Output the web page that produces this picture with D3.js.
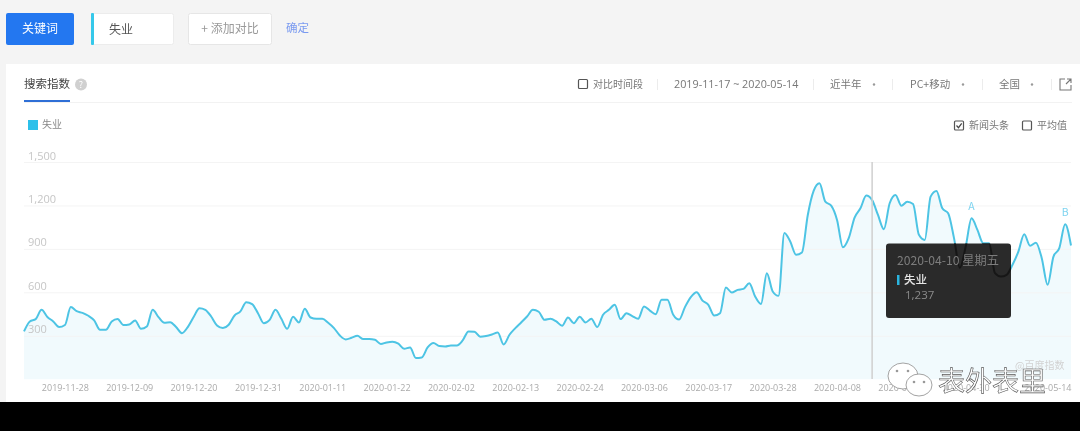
<!DOCTYPE html>
<html>
<head>
<meta charset="utf-8">
<script src="https://cdn.jsdelivr.net/npm/d3@7"></script>
<style>
html, body { margin: 0; padding: 0; background: #000; }
svg { display: block; filter: blur(0.4px); font-family: "Noto Sans CJK SC", "Noto Sans", sans-serif; }
.tick line { stroke: #f4f4f4; }
.xaxis text { fill: #aaa; font-size: 9px; font-family: "Open Sans", sans-serif; text-anchor: end; }
.yaxis text { fill: #c6c6c6; font-size: 11px; font-family: "Open Sans", sans-serif; }
</style>
</head>
<body>
<svg class="chart" width="1080" height="431"></svg>
<script>
var seriesName = "失业";
var startDate = "2019-11-17";
var yTicks = [300, 600, 900, 1200, 1500];
var xTicks = ["2019-11-28", "2019-12-09", "2019-12-20", "2019-12-31", "2020-01-11", "2020-01-22",
    "2020-02-02", "2020-02-13", "2020-02-24", "2020-03-06", "2020-03-17", "2020-03-28",
    "2020-04-08", "2020-04-19", "2020-04-30", "2020-05-14"];

// daily index
var values = [
    330, 399, 415, 479, 430, 399, 360, 374, 498, 470,
    458, 438, 406, 341, 341, 399, 415, 374, 378, 405,
    348, 364, 479, 429, 390, 394, 360, 318, 360, 429,
    490, 479, 433, 371, 353, 376, 440, 468, 532, 519,
    456, 387, 410, 479, 417, 348, 431, 392, 486, 426,
    417, 417, 390, 353, 302, 275, 286, 300, 277, 277,
    272, 243, 254, 259, 245, 210, 219, 146, 150, 219,
    250, 229, 226, 233, 233, 268, 330, 328, 293, 298,
    309, 323, 240, 307, 353, 392, 433, 479, 466, 410,
    417, 399, 369, 426, 387, 431, 392, 417, 360, 445,
    479, 514, 415, 456, 436, 417, 502, 474, 449, 548,
    548, 445, 412, 498, 567, 601, 543, 514, 440, 456,
    633, 599, 617, 624, 663, 571, 519, 732, 606, 576,
    1010, 951, 859, 875, 1134, 1300, 1353, 1226, 1199, 1100,
    911, 974, 1116, 1180, 1268, 1237, 1134, 1036, 1215, 1272,
    1197, 1226, 1210, 997, 962, 1261, 1300, 1180, 1146, 974,
    769, 916, 1111, 1031, 939, 939, 732, 709, 721, 790,
    881, 1001, 921, 943, 836, 652, 847, 905, 1070, 923
];

var newsMarks = [{ label: "A", index: 162 }, { label: "B", index: 178 }];
var hoverIndex = 145;

var svg = d3.select(".chart");
var parse = d3.utcParse("%Y-%m-%d");
var fmt = d3.utcFormat("%Y-%m-%d");
var dates = values.map(function(v, i) { return d3.utcDay.offset(parse(startDate), i); });

var x = d3.scaleUtc().domain([dates[0], dates[dates.length - 1]]).range([24, 1071]);
var y = d3.scaleLinear().domain([0, 1500]).range([379.2, 162]);

// page + card
svg.append("rect").attr("width", 1080).attr("height", 431).attr("fill", "#f4f4f4");
svg.append("rect").attr("x", 6).attr("y", 64).attr("width", 1074).attr("height", 340).attr("fill", "#fff");

function label(txt, px, py, size, color, anchor) {
    return svg.append("text").attr("x", px).attr("y", py).attr("dy", "0.35em")
        .attr("font-size", size).attr("fill", color).attr("text-anchor", anchor || "start").text(txt);
}
function box(px, py, w, h, fill, stroke, r) {
    return svg.append("rect").attr("x", px).attr("y", py).attr("width", w).attr("height", h)
        .attr("fill", fill).attr("stroke", stroke || "none").attr("rx", r || 0);
}
function checkbox(px, py, checked) {
    box(px + 0.5, py + 0.5, 9, 9, "#fff", "#555", 1).attr("stroke-width", 1.2);
    if (checked) {
        svg.append("path").attr("d", "M" + (px + 2.5) + "," + (py + 5) + "l2,2.2l3.2,-4.4")
            .attr("fill", "none").attr("stroke", "#444").attr("stroke-width", 1.2);
    }
}

// top buttons
box(6, 13, 68, 32, "#2377f0", null, 2);
label("关键词", 40, 29, 12, "#fff", "middle");
box(91.5, 13.5, 82, 31, "#fff", "#ececec", 2);
box(91, 13, 3, 32, "#35c8ea", null, 1);
label(seriesName, 109, 30, 12, "#555");
box(188.5, 13.5, 83, 31, "#fff", "#e6e6e6", 2);
label("+ 添加对比", 230, 29, 12, "#999", "middle");
label("确定", 286, 28, 11.5, "#7a9af0");

// tab row
label("搜索指数", 24, 84, 11.5, "#444");
box(24, 100, 46, 2, "#2f6fd6");
svg.append("circle").attr("cx", 81).attr("cy", 84.5).attr("r", 6).attr("fill", "#d0d0d0");
label("?", 81, 84.5, 9, "#fff", "middle");
box(24, 102, 1048, 1, "#f2f2f2");

checkbox(578, 79, false);
label("对比时间段", 593, 84, 10, "#777");
label("2019-11-17 ~ 2020-05-14", 674, 84, 10.8, "#777").style("font-family", "'Open Sans', sans-serif");
label("近半年", 830, 84, 10.5, "#777");
label("PC+移动", 910, 84, 10.5, "#777");
label("全国", 999, 84, 10.5, "#777");
[874, 963, 1032].forEach(function(d) {
    svg.append("circle").attr("cx", d).attr("cy", 84.5).attr("r", 1.2).attr("fill", "#999");
});
[657, 813, 892, 982, 1051].forEach(function(d) {
    box(d, 79, 1, 11, "#ececec");
});
svg.append("path").attr("d", "M1065,79h-5v11h11v-5M1067,79h4v4M1071,79l-5,5")
    .attr("fill", "none").attr("stroke", "#777").attr("stroke-width", 1.1);

// legend + switches
box(28, 120, 10, 10, "#2cc0ea");
label(seriesName, 42, 124.5, 10, "#888");
checkbox(954, 120.5, true);
label("新闻头条", 969, 125.5, 10, "#777");
checkbox(1022, 120.5, false);
label("平均值", 1037, 125.5, 10, "#777");

// chart
var area = d3.area().x(function(d, i) { return x(dates[i]); }).y0(y(0)).y1(function(d) { return y(d); })
    .curve(d3.curveMonotoneX);
var line = d3.line().x(function(d, i) { return x(dates[i]); }).y(function(d) { return y(d); })
    .curve(d3.curveMonotoneX);

svg.append("path").datum(values).attr("d", area).attr("fill", "#f1fafd");

var grid = svg.append("g").attr("class", "yaxis").attr("transform", "translate(24,0)")
    .call(d3.axisRight(y).tickValues(yTicks).tickSize(1047).tickFormat(d3.format(",")));
grid.select(".domain").remove();
grid.selectAll("text").attr("x", 4).attr("dy", "-3px");

svg.append("path").datum(values).attr("d", line).attr("fill", "none")
    .attr("stroke", "#4dc4e4").attr("stroke-width", 2);

var xAxis = svg.append("g").attr("class", "xaxis").attr("transform", "translate(0,379)")
    .call(d3.axisBottom(x).tickValues(xTicks.map(parse)).tickSize(0).tickPadding(6).tickFormat(fmt));
xAxis.select(".domain").remove();

newsMarks.forEach(function(m) {
    label(m.label, x(dates[m.index]), y(values[m.index]) - 12, 10.5, "#7fd4f0", "middle");
});

// hover line + tooltip
svg.append("line").attr("x1", x(dates[hoverIndex])).attr("x2", x(dates[hoverIndex]))
    .attr("y1", 162).attr("y2", 379).attr("stroke", "#cfcfcf").attr("stroke-width", 1.5);
box(886, 243.5, 125, 74.5, "#2a2a2a", null, 3);
svg.append("clipPath").attr("id", "tipclip").append("rect")
    .attr("x", 886).attr("y", 243.5).attr("width", 125).attr("height", 74.5);
// the curve shows through the tooltip as a dark trace
svg.append("path").datum(values).attr("d", line).attr("fill", "none").attr("clip-path", "url(#tipclip)")
    .attr("stroke", "#161616").attr("stroke-width", 2);
label(fmt(dates[hoverIndex]) + " 星期五", 897, 261, 12.2, "#7d7d7d");
box(897, 275, 2.5, 10, "#2ab5e0");
label(seriesName, 904, 280, 11.5, "#e6e6e6").attr("font-weight", 500);
label(d3.format(",")(values[hoverIndex]), 905, 295, 11.5, "#8a8a8a").style("font-family", "'Open Sans', sans-serif");

// watermarks
label("@百度指数", 1015, 365, 10, "#d2d2d2");
var bubble = svg.append("g").attr("fill", "#fff").attr("stroke", "#999").attr("stroke-width", 0.9);
bubble.append("ellipse").attr("cx", 903).attr("cy", 376).attr("rx", 15).attr("ry", 13);
bubble.append("ellipse").attr("cx", 919).attr("cy", 385).attr("rx", 13).attr("ry", 11);
[[897, 371], [908, 371], [914, 382], [924, 382]].forEach(function(p) {
    svg.append("circle").attr("cx", p[0]).attr("cy", p[1]).attr("r", 1.3).attr("fill", "#999");
});
label("表外表里", 938, 382, 27, "#fff").attr("stroke", "#555").attr("stroke-width", 0.6);

// black band along the bottom of the screenshot
svg.append("rect").attr("x", 0).attr("y", 402).attr("width", 1080).attr("height", 29).attr("fill", "#000");
</script>
</body>
</html>
